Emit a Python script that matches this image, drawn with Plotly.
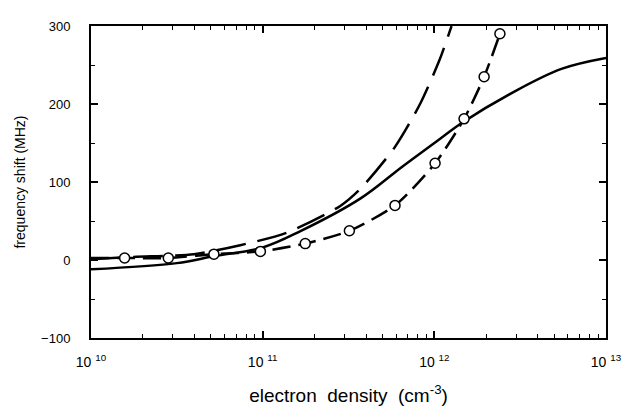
import plotly.graph_objects as go

# Solid curve
solid_x = [1e10, 3.16e10, 5.25e10, 1e11, 1.66e11, 3.72e11, 6.53e11, 1.12e12, 1.45e12, 2.82e12, 5.5e12, 1e13]
solid_y = [-12, -4, 5, 16, 37, 79, 120, 158, 176, 214, 245, 259]

# Long-dashed curve
dash_x = [1e10, 1.78e10, 3.98e10, 7.4e10, 1.38e11, 2.82e11, 3.7e11, 5.9e11, 8.3e11, 1.07e12, 1.26e12]
dash_y = [1, 4, 7.5, 19, 35, 69, 91, 145, 201, 256, 300]

# Dash-dot curve with open circles
circ_x = [1.57e10, 2.82e10, 5.2e10, 9.7e10, 1.77e11, 3.2e11, 5.9e11, 1.01e12, 1.49e12, 1.95e12, 2.41e12]
circ_y = [2.5, 2.5, 7.5, 11, 21, 37.5, 70, 124, 181, 235, 290]

xticks = [1e10, 1e11, 1e12, 1e13]
xticktext = ["10 <sup>10</sup>", "10 <sup>11</sup>", "10 <sup>12</sup>", "10 <sup>13</sup>"]
yticks = [-100, 0, 100, 200, 300]

fig = go.Figure()
fig.add_trace(go.Scatter(x=solid_x, y=solid_y, mode="lines", line=dict(color="black", width=2.5, shape="spline", smoothing=1), showlegend=False))
fig.add_trace(go.Scatter(x=dash_x, y=dash_y, mode="lines", line=dict(color="black", width=2.5, dash="30px,12px", shape="spline", smoothing=0.7), showlegend=False))
fig.add_trace(go.Scatter(x=[1e10] + circ_x, y=[2.5] + circ_y, mode="lines", line=dict(color="black", width=2.5, dash="18px,8px", shape="spline", smoothing=0.7), showlegend=False))
fig.add_trace(go.Scatter(x=circ_x, y=circ_y, mode="markers", marker=dict(symbol="circle", size=10, color="white", line=dict(color="black", width=1.5)), showlegend=False, cliponaxis=False))

fig.update_layout(
    width=627, height=412,
    margin=dict(l=78, r=29, t=11, b=82),
    paper_bgcolor="white", plot_bgcolor="white",
    font=dict(family="Liberation Sans, Arial, sans-serif", color="black"),
)
fig.update_xaxes(
    type="log", range=[10, 13], tickvals=xticks, ticktext=xticktext,
    ticks="inside", ticklen=7, tickwidth=1.5, tickcolor="black",
    showline=True, linecolor="black", linewidth=2, mirror="ticks", showgrid=False, zeroline=False,
    tickfont=dict(size=14, color="black"), ticklabelstandoff=10,
    minor=dict(ticks="inside", ticklen=4, tickwidth=1, tickcolor="black", dtick="D1", showgrid=False),
    title=dict(text="electron  density  (cm<sup>-3</sup>)", font=dict(size=19, color="black"), standoff=20),
)
fig.update_yaxes(
    range=[-100, 300], tickvals=yticks,
    ticks="inside", ticklen=7, tickwidth=1.5, tickcolor="black",
    showline=True, linecolor="black", linewidth=2, mirror="ticks", showgrid=False, zeroline=False,
    tickfont=dict(size=13, color="black"), ticklabelstandoff=16,
    minor=dict(ticks="inside", ticklen=4, tickwidth=1, tickcolor="black", dtick=50, showgrid=False),
    title=dict(text="frequency shift (MHz)", font=dict(size=14, color="black"), standoff=12),
)
fig.write_html("out.html")
